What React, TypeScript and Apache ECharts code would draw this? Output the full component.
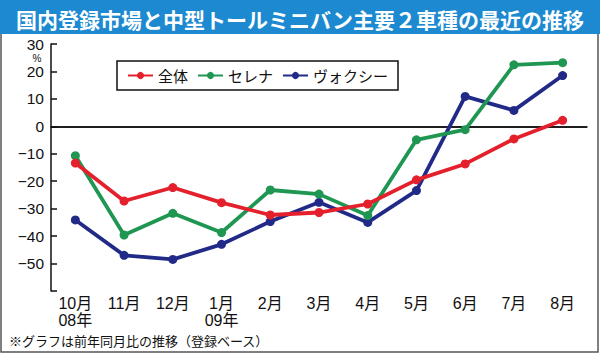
import React, { useEffect, useRef } from "react";
import * as echarts from "echarts";

const categories = ["10月\n08年", "11月", "12月", "1月\n09年", "2月", "3月", "4月", "5月", "6月", "7月", "8月"];
const seriesNames = ["全体", "セレナ", "ヴォクシー"];
const totalValues = [-13.4, -27.2, -22.3, -27.8, -32.3, -31.4, -28.3, -19.5, -13.7, -4.6, 2.2];
const serenaValues = [-10.7, -39.6, -31.7, -38.7, -23.2, -24.7, -32.5, -4.9, -1.2, 22.4, 23.2];
const voxyValues = [-34.1, -47.0, -48.5, -43.0, -34.7, -27.7, -35.0, -23.4, 10.9, 5.8, 18.5];
const yTicks = { min: -60, max: 30, interval: 10 };
const titleText = "国内登録市場と中型トールミニバン主要２車種の最近の推移";
const noteText = "※グラフは前年同月比の推移（登録ベース）";
const unitText = "%";

const colors = ["#e3202c", "#1f9652", "#222a88"];
const FONT = "'Liberation Sans', 'Noto Sans CJK JP', sans-serif";
const CJK = "'Noto Sans CJK JP', sans-serif";

export default function App() {
  const ref = useRef<HTMLDivElement>(null);
  useEffect(() => {
    if (!ref.current) return;
    const chart = echarts.init(ref.current, null, { renderer: "svg" });
    const dataSets = [totalValues, serenaValues, voxyValues];
    chart.setOption({
      animation: false,
      backgroundColor: "#ffffff",
      title: {
        text: titleText,
        left: "center",
        top: 3,
        textStyle: { color: "#ffffff", fontSize: 21, fontWeight: "bold", fontFamily: CJK },
        z: 10,
      },
      legend: {
        data: seriesNames,
        left: 117,
        top: 61,
        padding: [7, 10],
        itemGap: 9,
        itemWidth: 25,
        itemHeight: 9,
        borderColor: "#111",
        borderWidth: 1.5,
        textStyle: { fontSize: 15, fontFamily: CJK, color: "#111" },
      },
      grid: { left: 51, right: 13, top: 44, bottom: 63 },
      xAxis: {
        type: "category",
        data: categories,
        boundaryGap: true,
        axisLine: { lineStyle: { color: "#111", width: 1.5 } },
        axisTick: { inside: true, length: 6, lineStyle: { color: "#111", width: 1.5 } },
        axisLabel: {
          color: "#111",
          fontSize: 16,
          fontFamily: FONT,
          margin: 4,
          lineHeight: 17,
          interval: 0,
        },
      },
      yAxis: {
        type: "value",
        min: yTicks.min,
        max: yTicks.max,
        interval: yTicks.interval,
        axisLine: { show: true, lineStyle: { color: "#111", width: 1.5 } },
        axisTick: { show: true, inside: true, length: 6, lineStyle: { color: "#111", width: 1.5 } },
        splitLine: { show: false },
        axisLabel: {
          color: "#111",
          fontSize: 15.5,
          lineHeight: 14,
          fontFamily: FONT,
          margin: 7,
          formatter: (v: number) => (v === yTicks.min ? "" : String(v).replace("-", "−")),
        },
      },
      series: seriesNames.map((name, i) => ({
        name,
        type: "line",
        data: dataSets[i],
        color: colors[i],
        symbol: "circle",
        symbolSize: 9,
        lineStyle: { width: 3.8, color: colors[i] },
        itemStyle: { color: colors[i] },
        z: 3 + (2 - i),
        markLine:
          i === 0
            ? {
                silent: true,
                symbol: "none",
                label: { show: false },
                lineStyle: { color: "#111", width: 1.5, type: "solid" },
                data: [{ yAxis: 0 }],
                z: 1,
              }
            : undefined,
      })),
      graphic: [
        {
          type: "rect",
          shape: { x: 1, y: 1, width: 597, height: 351 },
          style: { fill: "none", stroke: "#555", lineWidth: 1.5 },
          z: 0,
        },
        {
          type: "rect",
          shape: { x: 0, y: 0, width: 600, height: 34 },
          style: { fill: "#1c89d0" },
          z: 1,
        },
        {
          type: "text",
          x: 37,
          y: 58.5,
          style: { text: unitText, fontSize: 10, fontFamily: FONT, fill: "#111", align: "center", verticalAlign: "middle" },
        },
        {
          type: "text",
          x: 9,
          y: 340,
          style: { text: noteText, fontSize: 13, fontFamily: CJK, fill: "#111", align: "left", verticalAlign: "middle" },
        },
      ],
    });
    return () => chart.dispose();
  }, []);
  return <div ref={ref} style={{ position: "fixed", left: 0, top: 0, width: 600, height: 354 }} />;
}
